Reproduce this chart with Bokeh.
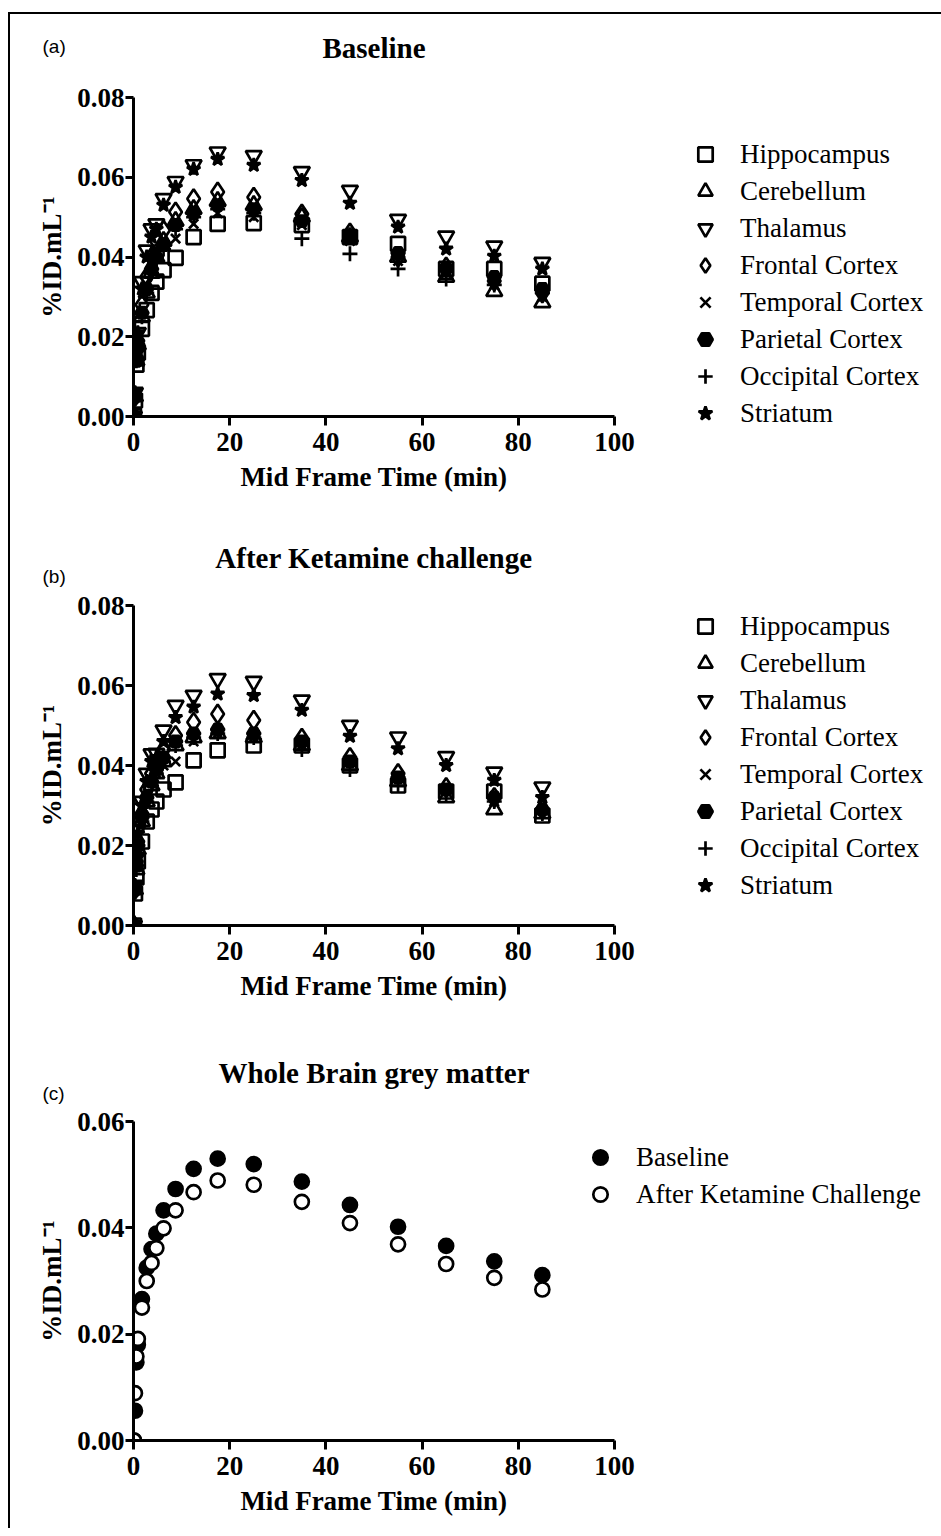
from bokeh.plotting import figure
from bokeh.models import Range1d, FixedTicker, PrintfTickFormatter, Legend, LegendItem, Title
from bokeh.layouts import column
from bokeh.embed import file_html
from bokeh.resources import INLINE

# ---------------- data ----------------
times = [0.1, 0.3, 0.6, 0.9, 1.75, 2.75, 3.75, 4.75, 6.25, 8.75, 12.5, 17.5, 25, 35, 45, 55, 65, 75, 85]

region_names = ["Hippocampus", "Cerebellum", "Thalamus", "Frontal Cortex",
                "Temporal Cortex", "Parietal Cortex", "Occipital Cortex", "Striatum"]

# (a) Baseline
base_hippocampus = [0.0, 0.004, 0.013, 0.016, 0.022, 0.0267, 0.031, 0.0338, 0.0367, 0.0398, 0.045, 0.0483, 0.0485, 0.048, 0.045, 0.0433, 0.037, 0.037, 0.0333]
base_cerebellum = [0.0, 0.005, 0.014, 0.018, 0.025, 0.031, 0.036, 0.040, 0.044, 0.049, 0.052, 0.054, 0.053, 0.050, 0.045, 0.040, 0.035, 0.0314, 0.0286]
base_thalamus = [0.0, 0.006, 0.016, 0.021, 0.0338, 0.0417, 0.047, 0.0483, 0.0546, 0.0589, 0.0631, 0.0663, 0.0654, 0.0614, 0.0567, 0.0494, 0.0452, 0.0427, 0.0386]
base_frontal = [0.0, 0.005, 0.015, 0.019, 0.028, 0.035, 0.040, 0.044, 0.0467, 0.0513, 0.0546, 0.0563, 0.055, 0.0508, 0.046, 0.040, 0.0375, 0.034, 0.031]
base_temporal = [0.0, 0.005, 0.014, 0.018, 0.026, 0.033, 0.038, 0.041, 0.043, 0.0446, 0.0483, 0.051, 0.050, 0.048, 0.044, 0.039, 0.036, 0.033, 0.030]
base_parietal = [0.0, 0.005, 0.014, 0.018, 0.026, 0.032, 0.037, 0.040, 0.043, 0.048, 0.051, 0.053, 0.052, 0.049, 0.045, 0.041, 0.037, 0.035, 0.032]
base_occipital = [0.0, 0.005, 0.014, 0.017, 0.025, 0.031, 0.036, 0.039, 0.042, 0.047, 0.050, 0.052, 0.051, 0.0446, 0.0408, 0.037, 0.0345, 0.033, 0.031]
base_striatum = [0.0, 0.006, 0.016, 0.021, 0.032, 0.040, 0.045, 0.047, 0.053, 0.0575, 0.062, 0.0645, 0.063, 0.0592, 0.0535, 0.0475, 0.042, 0.0402, 0.037]

# (b) After Ketamine challenge
ket_hippocampus = [0.0, 0.008, 0.012, 0.016, 0.021, 0.026, 0.029, 0.031, 0.034, 0.0358, 0.0413, 0.0438, 0.045, 0.045, 0.040, 0.035, 0.0335, 0.0335, 0.0275]
ket_cerebellum = [0.0, 0.009, 0.014, 0.019, 0.026, 0.031, 0.035, 0.038, 0.041, 0.045, 0.047, 0.048, 0.047, 0.045, 0.040, 0.036, 0.032, 0.029, 0.028]
ket_thalamus = [0.0, 0.010, 0.017, 0.024, 0.031, 0.038, 0.0429, 0.043, 0.0488, 0.055, 0.0575, 0.0617, 0.061, 0.0563, 0.050, 0.0471, 0.0422, 0.0383, 0.0346]
ket_frontal = [0.0, 0.009, 0.016, 0.021, 0.028, 0.034, 0.038, 0.040, 0.044, 0.0475, 0.0508, 0.0529, 0.0513, 0.0468, 0.042, 0.038, 0.0345, 0.032, 0.029]
ket_temporal = [0.0, 0.009, 0.015, 0.020, 0.027, 0.032, 0.036, 0.038, 0.040, 0.041, 0.046, 0.048, 0.047, 0.045, 0.041, 0.037, 0.034, 0.031, 0.029]
ket_parietal = [0.0, 0.009, 0.015, 0.020, 0.027, 0.032, 0.036, 0.039, 0.042, 0.046, 0.048, 0.049, 0.048, 0.046, 0.041, 0.037, 0.034, 0.032, 0.029]
ket_occipital = [0.0, 0.009, 0.014, 0.019, 0.026, 0.031, 0.035, 0.038, 0.041, 0.045, 0.047, 0.048, 0.047, 0.044, 0.039, 0.035, 0.033, 0.031, 0.028]
ket_striatum = [0.0, 0.010, 0.017, 0.023, 0.030, 0.036, 0.041, 0.042, 0.046, 0.052, 0.0546, 0.0579, 0.0575, 0.0538, 0.0473, 0.0442, 0.040, 0.0363, 0.032]

# (c) Whole brain grey matter
wb_baseline = [0.0, 0.0056, 0.0147, 0.018, 0.0266, 0.0325, 0.036, 0.0389, 0.0433, 0.0473, 0.0511, 0.053, 0.052, 0.0487, 0.0443, 0.0402, 0.0366, 0.0337, 0.0311]
wb_ketamine = [0.0, 0.0089, 0.0158, 0.0191, 0.025, 0.030, 0.0334, 0.0362, 0.0399, 0.0433, 0.0467, 0.0489, 0.0481, 0.0449, 0.0409, 0.0369, 0.0332, 0.0306, 0.0284]

x_ticks = [0, 20, 40, 60, 80, 100]
y_ticks_ab = [0.0, 0.02, 0.04, 0.06, 0.08]
y_ticks_c = [0.0, 0.02, 0.04, 0.06]

# ---------------- styling ----------------
SERIF = "Liberation Serif"
SANS = "Liberation Sans"

styles = [
    dict(marker="square", size=14, fill_color=None),
    dict(marker="triangle", size=16, fill_color=None),
    dict(marker="inverted_triangle", size=16, fill_color=None),
    dict(marker="diamond", size=19, fill_color=None),
    dict(marker="x", size=13, fill_color=None),
    dict(marker="hex", size=13, fill_color="black"),
    dict(marker="cross", size=15, fill_color=None),
    dict(marker="star", size=14, fill_color="black"),
]


def base_fig(ymax, yticks, top, frame_h, bottom):
    p = figure(frame_width=481, frame_height=frame_h,
               min_border_left=123, min_border_right=313,
               min_border_top=top, min_border_bottom=bottom,
               x_range=Range1d(0, 100), y_range=Range1d(0, ymax),
               output_backend="svg", toolbar_location=None, tools="")
    p.outline_line_color = None
    p.grid.visible = False
    p.background_fill_color = "white"
    p.border_fill_color = "white"
    for ax in (p.xaxis[0], p.yaxis[0]):
        ax.axis_line_width = 3
        ax.major_tick_line_width = 3
        ax.major_tick_in = 0
        ax.minor_tick_line_color = None
        ax.major_label_text_font = SERIF
        ax.major_label_text_font_style = "bold"
        ax.major_label_text_font_size = "27px"
        ax.major_label_text_color = "black"
        ax.axis_label_text_font = SERIF
        ax.axis_label_text_font_style = "bold"
        ax.axis_label_text_font_size = "27px"
        ax.axis_label_text_color = "black"
    p.xaxis[0].ticker = FixedTicker(ticks=x_ticks)
    p.yaxis[0].ticker = FixedTicker(ticks=yticks)
    p.yaxis[0].formatter = PrintfTickFormatter(format="%.2f")
    p.xaxis[0].major_tick_out = 9
    p.yaxis[0].major_tick_out = 8
    p.xaxis[0].major_label_standoff = 7
    p.yaxis[0].major_label_standoff = 1
    p.xaxis[0].axis_label = "Mid Frame Time (min)"
    p.yaxis[0].axis_label = "%ID.mL\u207b\u00b9"
    p.xaxis[0].axis_label_standoff = 8
    p.yaxis[0].axis_label_standoff = 7
    return p


def make_title(text, standoff):
    return Title(text=text, align="center", standoff=standoff, text_font=SERIF,
                 text_font_style="bold", text_font_size="29px", text_color="black")


def make_tag(text, standoff):
    return Title(text=text, align="left", offset=-91, standoff=standoff, text_font=SANS,
                 text_font_style="normal", text_font_size="19px", text_color="black")


def make_spacer(standoff):
    return Title(text=" ", standoff=standoff, text_font_size="1px")


def make_legend(items, vx, vy, standoff):
    return Legend(items=items, location=(vx, vy), glyph_width=36, glyph_height=36,
                  label_standoff=standoff, spacing=1, padding=0, margin=0,
                  border_line_color=None, background_fill_alpha=0,
                  label_text_font=SERIF, label_text_font_size="27px", label_text_color="black")


def region_panel(series, top, frame_h, bottom, leg_vy):
    p = base_fig(0.08, y_ticks_ab, top, frame_h, bottom)
    items = []
    for name, ys, st in zip(region_names, series, styles):
        r = p.scatter(times, ys, marker=st["marker"], size=st["size"],
                      fill_color=st["fill_color"], line_color="black", line_width=2.7)
        items.append(LegendItem(label=name, renderers=[r]))
    p.add_layout(make_legend(items, 73, leg_vy, 17), "right")
    return p


pa = region_panel([base_hippocampus, base_cerebellum, base_thalamus, base_frontal,
                   base_temporal, base_parietal, base_occipital, base_striatum],
                  83, 319, 110, -15)
pa.add_layout(make_spacer(49), "above")
pa.add_layout(make_title("Baseline", -36), "above")
pa.add_layout(make_tag("(a)", -23), "above")

pb = region_panel([ket_hippocampus, ket_cerebellum, ket_thalamus, ket_frontal,
                   ket_temporal, ket_parietal, ket_occipital, ket_striatum],
                  79, 320, 116, 22)
pb.add_layout(make_tag("(b)", 38), "above")
pb.add_layout(make_title("After Ketamine challenge", -59), "above")

pc = base_fig(0.06, y_ticks_c, 80, 319, 88)
r1 = pc.scatter(times, wb_baseline, marker="circle", size=14, fill_color="black",
                line_color="black", line_width=2.7)
r2 = pc.scatter(times, wb_ketamine, marker="circle", size=14, fill_color="white",
                line_color="black", line_width=2.7)
pc.add_layout(make_legend([LegendItem(label="Baseline", renderers=[r1]),
                           LegendItem(label="After Ketamine Challenge", renderers=[r2])],
                          -32, 228, 18), "right")
pc.add_layout(make_tag("(c)", 36), "above")
pc.add_layout(make_title("Whole Brain grey matter", -53), "above")

layout = column(pa, pb, pc, spacing=0, margin=(12, 0, 0, 8),
                styles={"border-left": "2px solid black", "border-top": "2px solid black",
                        "border-right": "2px solid black", "background": "white"})

open("out.html", "w").write(file_html(layout, INLINE))
